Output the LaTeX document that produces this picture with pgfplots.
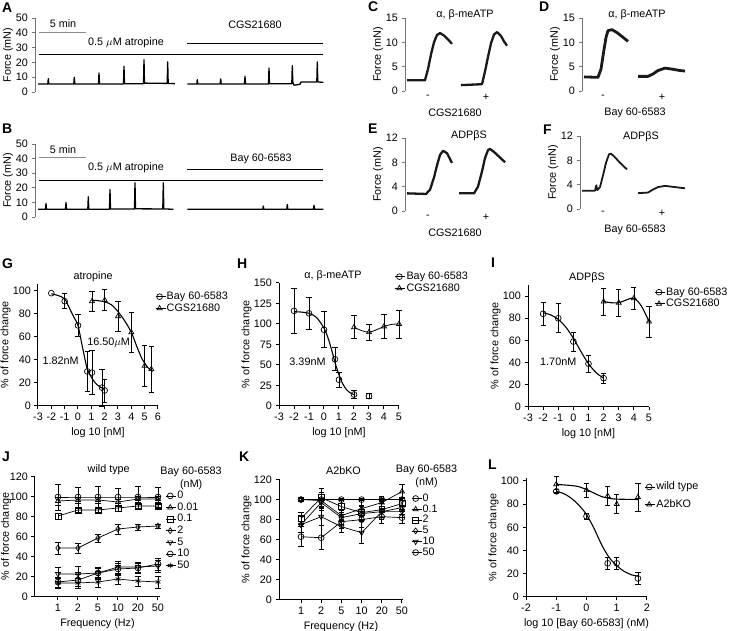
\documentclass[border=0pt]{standalone}
\usepackage{fontspec}
\setmainfont{Liberation Sans}
\usepackage{pgfplots}
\pgfplotsset{compat=1.18}
\newcommand{\ff}{\fontsize{10.8}{12.5}\selectfont}
\pgfplotsset{
 base/.style={scale only axis, anchor=south west, font=\ff,
   /pgf/number format/assume math mode=true, clip=false, tick align=outside,
   major tick length=3.5pt, legend cell align=left,
   tick label style={font=\ff}, label style={font=\ff}},
 trace/.style={base, axis x line=none, axis y line*=left, xtick=\empty,
   y axis line style={black!55, line width=0.8pt}, ytick style={black!55, line width=0.8pt},
   ylabel={Force (mN)}, ylabel shift=-4pt},
 dose/.style={base, axis x line*=bottom, axis y line*=left,
   axis line style={line width=1pt}, tick style={black, line width=1pt},
   ylabel={\% of force change}, ylabel shift=-4.5pt,
   legend style={draw=none, fill=none, inner sep=0pt, anchor=north west,
     font=\ff,
     nodes={inner sep=0.8pt, text height=7.8pt, text depth=2.2pt}},
   legend image code/.code={\path (0pt,0pt) -- (10pt,0pt); \draw[black, line width=0.8pt] (0pt,0pt)--(8pt,0pt); \draw[##1] plot coordinates {(4pt,0pt)};}},
 ser/.style={black, line width=0.7pt, mark size=2.9pt, mark options={fill=white, solid, line width=0.7pt},
   /pgfplots/error bars/y dir=both, /pgfplots/error bars/y explicit,
   /pgfplots/error bars/error bar style={line width=0.7pt, black},
   /pgfplots/error bars/error mark options={rotate=90, mark size=2.6pt, line width=0.7pt, black}},
 pts/.style={ser, only marks},
 fit/.style={black, line width=1.1pt, smooth, mark=none, forget plot},
 tr/.style={black, line width=1.3pt, line join=round, mark=none},
 tr2/.style={black!90, line width=2.3pt, line join=round, mark=none},
}
\newcommand{\plab}[3]{\node[anchor=north west, inner sep=0pt, font=\fontsize{14}{14}\selectfont\bfseries] at (#1pt,#2pt) {#3};}
\begin{document}
\begin{tikzpicture}
\useasboundingbox (0pt,0pt) rectangle (732pt,631pt);
% panel letters (y = 631 - top)
\plab{2}{628}{A}
\plab{2}{507}{B}
\plab{368}{629}{C}
\plab{539}{629}{D}
\plab{368}{507}{E}
\plab{543}{506}{F}
\plab{2}{372}{G}
\plab{237}{372}{H}
\plab{491}{373}{I}
\plab{2}{179}{J}
\plab{239}{179}{K}
\plab{488}{171}{L}

% ---------------- A
\begin{axis}[trace, at={(35pt,539pt)}, width=290pt, height=74pt, xmin=35, xmax=325, ymin=0, ymax=50, ytick={0,10,...,50}]
\addplot[tr] coordinates {(38,5.4)(47.8,5.4)(48.3,9)(48.8,5.4)(73.8,5.4)(74.3,10)(74.8,5.4)(98.5,5.4)(99,12.8)(99.5,5.4)(123.5,5.4)(124,17.3)(124.5,5.6)(143.5,5.6)(144,21.8)(144.5,6)(167.2,5.8)(167.7,20.3)(168.2,5.8)(175,5.6)};
\addplot[tr] coordinates {(187.3,5.4)(196.8,5.4)(197.3,8.3)(197.8,5.4)(220.2,5.4)(220.7,8.8)(221.2,5.4)(244.5,5.4)(245,10.6)(245.5,5.4)(268.5,5.4)(269,16.2)(269.5,5.6)(291.8,5.6)(292.3,17.8)(292.8,6.6)(294,4.6)(300,5.2)(301,6.8)(316.8,6.8)(317.3,20.3)(317.8,6.8)(323.3,6.5)};
\addplot[black!45, line width=0.8pt] coordinates {(39,40.3)(86,40.3)};
\addplot[black, line width=0.8pt] coordinates {(39,25.7)(323,25.7)};
\addplot[black, line width=0.8pt] coordinates {(187,32.7)(323,32.7)};
\node at (axis cs:63,46.2) {5 min};
\node at (axis cs:126,33) {0.5 $\mu$M atropine};
\node at (axis cs:255,45.5) {CGS21680};
\end{axis}

% ---------------- B
\begin{axis}[trace, at={(35pt,414pt)}, width=290pt, height=73pt, xmin=35, xmax=325, ymin=0, ymax=50, ytick={0,10,...,50}]
\addplot[tr] coordinates {(38,5.3)(45.5,5.3)(46,9.2)(46.5,5.3)(65.5,5.3)(66,9.9)(66.5,5.3)(87.8,5.3)(88.3,13.8)(88.8,5.3)(109.5,5.3)(110,18.8)(110.5,5.5)(134.5,5.5)(135,23.4)(135.5,5.6)(162.8,5.5)(163.3,23.4)(163.8,5.5)(173.3,5.3)};
\addplot[tr] coordinates {(187.3,5.3)(262.8,5.3)(263.3,7.5)(263.8,5.3)(286.8,5.3)(287.3,8.5)(287.8,5.3)(313.5,5.3)(314,8)(314.5,5.3)(323.3,5.3)};
\addplot[black!45, line width=0.8pt] coordinates {(39,40.6)(86,40.6)};
\addplot[black, line width=0.8pt] coordinates {(39,25.2)(323,25.2)};
\addplot[black, line width=0.8pt] coordinates {(187,32.6)(323,32.6)};
\node at (axis cs:63,46.3) {5 min};
\node at (axis cs:126,33.7) {0.5 $\mu$M atropine};
\node at (axis cs:261,39.7) {Bay 60-6583};
\end{axis}

% ---------------- C
\begin{axis}[trace, at={(405pt,540pt)}, width=105pt, height=73pt, xmin=405, xmax=510, ymin=0, ymax=15, ytick={0,5,10,15}]
\addplot[tr2] coordinates {(407,2.2)(425,2.2)(428,4.5)(431,7.5)(434,10)(437,11.5)(440,11.9)(444,11.4)(448,10.6)(452,9.7)};
\addplot[tr2] coordinates {(461,1.2)(482,1.4)(485,4)(488,7)(491,9.8)(494,11.6)(497,12.1)(501,11.3)(504,10.2)(507,9.3)};
\node at (axis cs:465,15.6) {α, β-meATP};
\node at (axis cs:428,-1.3) {-};
\node at (axis cs:486,-1.3) {+};
\node at (axis cs:455,-4.4) {CGS21680};
\end{axis}

% ---------------- D
\begin{axis}[trace, at={(582pt,540pt)}, width=105pt, height=73pt, xmin=582, xmax=687, ymin=0, ymax=15, ytick={0,5,10,15}]
\addplot[tr2, line width=2.8pt] coordinates {(584,2.9)(598,2.8)(601,4.5)(604,8.5)(606,11)(608,12.4)(612,12.6)(617,12)(622,11.2)(628,10.2)};
\addplot[tr2, line width=2.8pt] coordinates {(638,3.0)(648,3.0)(653,3.5)(658,4.2)(665,4.7)(672,4.5)(680,4.2)(685,4.1)};
\node at (axis cs:637,15.6) {α, β-meATP};
\node at (axis cs:603,-1.3) {-};
\node at (axis cs:662,-1.3) {+};
\node at (axis cs:635,-4.4) {Bay 60-6583};
\end{axis}

% ---------------- E
\begin{axis}[trace, at={(405pt,420pt)}, width=105pt, height=73pt, xmin=405, xmax=510, ymin=0, ymax=12, ytick={0,4,8,12}]
\addplot[tr2] coordinates {(407,2.9)(426,2.8)(430,3.5)(434,5.5)(437,7.5)(440,9.2)(443,9.9)(447,9.5)(452,7.9)};
\addplot[tr2] coordinates {(459,2.9)(474,2.9)(478,4)(482,6.5)(485,8.7)(488,10)(490,10.2)(494,9.7)(500,8.8)(505,8)};
\node at (axis cs:469,12.3) {ADPβS};
\node at (axis cs:428,-1.0) {-};
\node at (axis cs:486,-1.0) {+};
\node at (axis cs:455,-3.5) {CGS21680};
\end{axis}

% ---------------- F
\begin{axis}[trace, at={(580pt,422pt)}, width=107pt, height=73pt, xmin=580, xmax=687, ymin=0, ymax=12, ytick={0,4,8,12}]
\addplot[tr2, line width=1.8pt] coordinates {(582,3.0)(595,3.0)(596.3,3.9)(597.3,3.1)(600,3.6)(603,5.5)(606,7.6)(609,9.0)(611,9.1)(615,8.5)(620,7.6)(627,6.5)};
\addplot[tr2, line width=1.8pt] coordinates {(638,2.6)(648,2.7)(653,3.2)(658,3.6)(665,3.8)(675,3.6)(685,3.4)};
\node at (axis cs:641,11.8) {ADPβS};
\node at (axis cs:603,-0.7) {-};
\node at (axis cs:662,-0.7) {+};
\node at (axis cs:635,-3.5) {Bay 60-6583};
\end{axis}

% ---------------- G
\begin{axis}[dose, at={(38pt,225pt)}, width=120pt, height=122pt, xmin=-3, xmax=6, ymin=0, ymax=106,
  xtick={-3,...,6}, ytick={0,20,...,100}, xlabel={log 10 [nM]},
  legend style={at={(0.975,0.945)}}]
\addplot[fit] coordinates {(-2,97.5)(-1.5,96)(-1,93)(-0.6,84)(-0.3,77)(0,70)(0.25,56)(0.5,42)(0.7,32)(1,25)(1.3,20)(1.6,17)(2,14.5)};
\addplot[fit] coordinates {(1,92)(1.5,91.5)(2,90.5)(2.5,88)(3,82)(3.5,74)(4,64)(4.4,52)(4.8,41)(5.2,34)(5.6,30)};
\addplot[pts, mark=o] table[x=x, y=y, y error=e, row sep=\\] {x y e\\ -1 91 6.5\\ 0 70 9.5\\ 0.7 30 17.5\\ 1.05 29 19\\ 1.8 16 16\\ 2 13.5 10\\};
\addlegendentry{Bay 60-6583}
\addplot[pts, mark=triangle] table[x=x, y=y, y error=e, row sep=\\] {x y e\\ 1.05 91 9\\ 2 92 9\\ 3 78 13\\ 4 64 17\\ 5 35 18\\ 5.5 32 20\\};
\addlegendentry{CGS21680}
\addplot[ser, only marks, mark=o, forget plot, error bars/y dir=none] coordinates {(-2,98)};
\node at (axis cs:1.13,112) {atropine};
\node at (axis cs:-1.3,39) {1.82nM};
\node at (axis cs:2.3,55) {16.50$\mu$M};
\end{axis}

% ---------------- H
\begin{axis}[dose, at={(279pt,225pt)}, width=120pt, height=123pt, xmin=-3, xmax=5, ymin=0, ymax=150,
  xtick={-3,...,5}, ytick={0,25,...,150}, xlabel={log 10 [nM]},
  legend style={at={(0.965,1.1)}}]
\addplot[fit] coordinates {(-2,115)(-1.5,114.5)(-1,113)(-0.5,108)(0,95)(0.25,84)(0.5,69)(0.75,52)(1,38)(1.25,27)(1.5,20)(1.75,16)(2,14)};
\addplot[fit, line width=0.8pt] coordinates {(2,96)(2.5,92)(3,90)(3.5,93)(4,97)(4.5,99.5)(5,100)};
\addplot[pts, mark=o] table[x=x, y=y, y error=e, row sep=\\] {x y e\\ -2 116 27\\ -1 113 19\\ 0 93 22\\ 0.73 57 14\\ 1 32 9\\ 2 14 5\\ 3 12 3\\};
\addlegendentry{Bay 60-6583}
\addplot[pts, mark=triangle] table[x=x, y=y, y error=e, row sep=\\] {x y e\\ 2 96 14\\ 3 90 10\\ 4 97 15\\ 5 100 17\\};
\addlegendentry{CGS21680}
\node at (axis cs:0.6,159) {α, β-meATP};
\node at (axis cs:-1.1,54) {3.39nM};
\end{axis}

% ---------------- I
\begin{axis}[dose, at={(528pt,224pt)}, width=121pt, height=122pt, xmin=-3, xmax=5, ymin=0, ymax=110,
  xtick={-3,...,5}, ytick={0,20,...,100}, xlabel={log 10 [nM]},
  legend style={at={(1.045,0.99)}}]
\addplot[fit] coordinates {(-2,85)(-1.5,83)(-1,79)(-0.5,72)(0,62)(0.5,50)(1,39)(1.5,31)(2,26)};
\addplot[fit] coordinates {(2,95)(2.5,94)(3,94)(3.5,96.5)(4,98)(4.5,91)(5,77)};
\addplot[pts, mark=o] table[x=x, y=y, y error=e, row sep=\\] {x y e\\ -2 84 10\\ -1 80 13\\ 0 59 8.5\\ 1 39 7.5\\ 2 26 4.5\\};
\addlegendentry{Bay 60-6583}
\addplot[pts, mark=triangle] table[x=x, y=y, y error=e, row sep=\\] {x y e\\ 2 95 12\\ 3 94 12\\ 4 98 10\\ 5 77 14\\};
\addlegendentry{CGS21680}
\node at (axis cs:0.9,117) {ADPβS};
\node at (axis cs:-1.0,41) {1.70nM};
\end{axis}

% ---------------- J
\begin{axis}[dose, at={(35pt,34pt)}, width=125pt, height=121pt, xmin=-1.15, xmax=5.1, ymin=0, ymax=121,
  xtick={0,...,5}, xticklabels={1,2,5,10,20,50}, ytick={0,20,...,120}, xlabel={Frequency (Hz)},
  ylabel shift=-8pt, legend style={at={(1.045,0.885)}}]
\addplot[ser, mark=o] table[x=x, y=y, y error=e, row sep=\\] {x y e\\ 0 100 13\\ 1 100 10\\ 2 100 11\\ 3 100 9\\ 4 100 11\\ 5 100 10\\};
\addlegendentry{0}
\addplot[ser, mark=triangle] table[x=x, y=y, y error=e, row sep=\\] {x y e\\ 0 96 4\\ 1 97 3\\ 2 97 3\\ 3 95 3\\ 4 98 3\\ 5 98 3\\};
\addlegendentry{0.01}
\addplot[ser, mark=square] table[x=x, y=y, y error=e, row sep=\\] {x y e\\ 0 81 3\\ 1 87 2\\ 2 87 2\\ 3 89 3\\ 4 91 2\\ 5 91 2\\};
\addlegendentry{0.1}
\addplot[ser, mark=diamond] table[x=x, y=y, y error=e, row sep=\\] {x y e\\ 0 49 6\\ 1 49 5\\ 2 59 4\\ 3 68 5\\ 4 70 3\\ 5 71 2\\};
\addlegendentry{2}
\addplot[ser, mark=triangle, mark options={rotate=180}] table[x=x, y=y, y error=e, row sep=\\] {x y e\\ 0 23 7\\ 1 23 8\\ 2 24 6\\ 3 30 6\\ 4 30 5\\ 5 31 6\\};
\addlegendentry{5}
\addplot[ser, mark=o] table[x=x, y=y, y error=e, row sep=\\] {x y e\\ 0 15 5\\ 1 17 6\\ 2 24 5\\ 3 28 6\\ 4 29 5\\ 5 33 6\\};
\addlegendentry{10}
\addplot[ser, mark=asterisk] table[x=x, y=y, y error=e, row sep=\\] {x y e\\ 0 14 5\\ 1 14 5\\ 2 15 5\\ 3 18 5\\ 4 16 5\\ 5 15 6\\};
\addlegendentry{50}
\node at (rel axis cs:0.59,1.05) {wild type};
\node[anchor=west] at (rel axis cs:0.975,1.035) {Bay 60-6583};
\node at (rel axis cs:1.25,0.925) {(nM)};
\end{axis}

% ---------------- K
\begin{axis}[dose, at={(279pt,31pt)}, width=124pt, height=121pt, xmin=-1.09, xmax=5.05, ymin=0, ymax=120.5,
  xtick={0,...,5}, xticklabels={1,2,5,10,20,50}, ytick={0,20,...,120}, xlabel={Frequency (Hz)},
  legend style={at={(1.065,0.885)}, nodes={inner sep=0.6pt, text height=7.6pt, text depth=2pt}}]
\addplot[ser, mark=o] table[x=x, y=y, y error=e, row sep=\\] {x y e\\ 0 100 1\\ 1 100 1\\ 2 100 1\\ 3 100 1\\ 4 100 1\\ 5 100 1\\};
\addlegendentry{0}
\addplot[ser, mark=triangle] table[x=x, y=y, y error=e, row sep=\\] {x y e\\ 0 100 2\\ 1 99 8\\ 2 84 6\\ 3 91 8\\ 4 97 6\\ 5 108 7\\};
\addlegendentry{0.1}
\addplot[ser, mark=square] table[x=x, y=y, y error=e, row sep=\\] {x y e\\ 0 81 6\\ 1 102 9\\ 2 93 6\\ 3 87 7\\ 4 90 8\\ 5 96 6\\};
\addlegendentry{2}
\addplot[ser, mark=diamond] table[x=x, y=y, y error=e, row sep=\\] {x y e\\ 0 75 8\\ 1 97 8\\ 2 82 7\\ 3 86 7\\ 4 88 8\\ 5 92 7\\};
\addlegendentry{5}
\addplot[ser, mark=triangle, mark options={rotate=180}] table[x=x, y=y, y error=e, row sep=\\] {x y e\\ 0 75 8\\ 1 83 9\\ 2 73 6\\ 3 67 11\\ 4 88 8\\ 5 88 6\\};
\addlegendentry{10}
\addplot[ser, mark=o] table[x=x, y=y, y error=e, row sep=\\] {x y e\\ 0 63 10\\ 1 62 12\\ 2 78 7\\ 3 80 8\\ 4 83 7\\ 5 82 6\\};
\addlegendentry{50}
\node at (rel axis cs:0.52,1.066) {A2bKO};
\node[anchor=west] at (rel axis cs:0.915,1.074) {Bay 60-6583};
\node at (rel axis cs:1.19,0.967) {(nM)};
\end{axis}

% ---------------- L
\begin{axis}[dose, at={(526pt,34pt)}, width=121pt, height=119pt, xmin=-2, xmax=2, ymin=0, ymax=102.5,
  xtick={-2,...,2}, ytick={0,20,...,100}, xlabel={log 10 [Bay 60-6583] (nM)},
  legend style={at={(0.98,0.975)}, row sep=6pt}]
\addplot[fit] coordinates {(-1,91)(-0.75,89)(-0.5,85)(-0.25,79)(0,71)(0.25,59)(0.5,45)(0.75,34)(1,27)(1.25,22)(1.5,19)(1.7,18)};
\addplot[fit] coordinates {(-1,97)(-0.5,96)(-0.25,95)(0,92.5)(0.25,89.5)(0.5,86.5)(0.75,85)(1,84.3)(1.7,84)};
\addplot[pts, mark=o] table[x=x, y=y, y error=e, row sep=\\] {x y e\\ -1 91 2\\ 0 69.5 2.5\\ 0.7 29 5\\ 1 29 5.5\\ 1.7 16 5\\};
\addlegendentry{wild type}
\addplot[pts, mark=triangle] table[x=x, y=y, y error=e, row sep=\\] {x y e\\ -1 97 6.5\\ 0 92 6\\ 0.7 87 8\\ 1 80 8\\ 1.7 86 12\\};
\addlegendentry{A2bKO}
\end{axis}
\end{tikzpicture}
\end{document}
